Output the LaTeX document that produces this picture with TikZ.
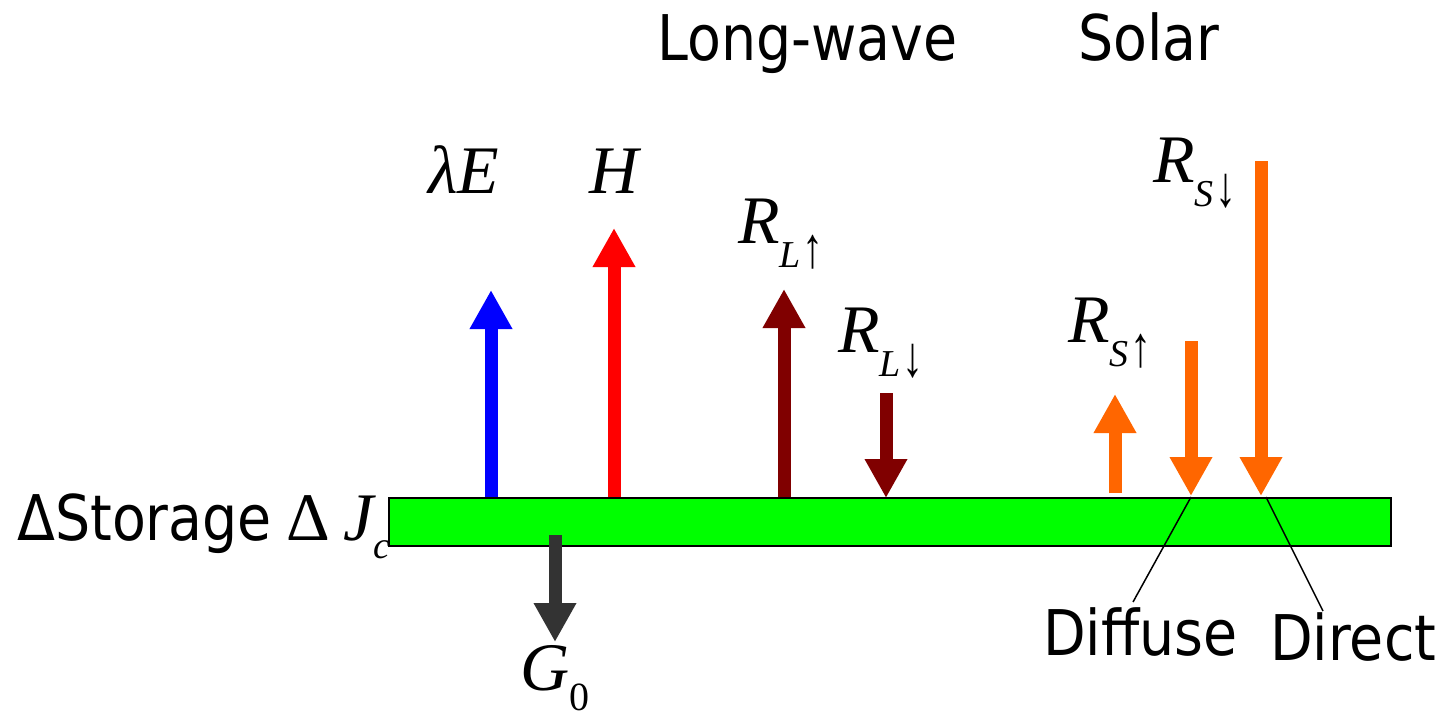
\documentclass[tikz,border=0pt]{standalone}
\usepackage{fontspec}
\usepackage{graphicx}
\usetikzlibrary{arrows.meta}
\newfontfamily\tmfont{Liberation Serif}
\newfontfamily\sansfont[FakeStretch=0.88]{DejaVu Sans}
\newcommand\bigmath{\fontsize{68}{68}\selectfont\tmfont\itshape}
\newcommand\submath{\fontsize{38}{38}\selectfont\tmfont\itshape}
\newcommand\bigsans{\fontsize{63}{63}\selectfont\sansfont}
\newcommand\subarrow[1]{\resizebox*{21pt}{34pt}{\fontsize{40}{40}\selectfont\tmfont\upshape #1}}
\newcommand\lab[3]{{\bigmath #1}\raisebox{-24pt}{\submath #2\hspace{2pt}\subarrow{#3}}}
\definecolor{barg}{HTML}{00FF00}
\definecolor{lwred}{HTML}{800000}
\definecolor{solor}{HTML}{FF6600}
\definecolor{gflux}{HTML}{333333}
\tikzset{
  flux/.style={line width=13pt, -{Triangle[width=40pt,length=39pt]}},
  txt/.style={inner sep=0pt, anchor=base west},
  leader/.style={line width=1.5pt}
}
\begin{document}
\begin{tikzpicture}[x=1pt,y=-1pt]
\fill[white] (0,0) rectangle (1454,717);
\useasboundingbox (0,0) rectangle (1454,717);
% surface layer
\node[draw=black, line width=1.5pt, fill=barg, inner sep=0pt, minimum width=1002pt, minimum height=48pt, anchor=north west] (bar) at (388,497) {};
% headings
\node[txt] (lw) at (657,60) {\bigsans Long-wave};
\node[txt] (sol) at (1078,60) {\bigsans Solar};
% coordinates
\coordinate (le0) at (491,497); \coordinate (le1) at (491,290);
\coordinate (h0) at (614,497); \coordinate (h1) at (614,228);
\coordinate (lu0) at (784,497); \coordinate (lu1) at (784,289);
\coordinate (ld0) at (886,393); \coordinate (ld1) at (886,498);
\coordinate (su0) at (1115,493); \coordinate (su1) at (1115,394);
\coordinate (df0) at (1191,341); \coordinate (df1) at (1191,496);
\coordinate (dr0) at (1261,161); \coordinate (dr1) at (1261,496);
\coordinate (g0) at (555,535); \coordinate (g1) at (555,642);
% fluxes
\draw[flux, blue] (le0) -- (le1);
\draw[flux, red] (h0) -- (h1);
\draw[flux, lwred] (lu0) -- (lu1);
\draw[flux, lwred] (ld0) -- (ld1);
\draw[flux, solor] (su0) -- (su1);
\draw[flux, solor] (df0) -- (df1);
\draw[flux, solor] (dr0) -- (dr1);
\draw[flux, gflux] (g0) -- (g1);
% labels
\node[txt] (tle) at (428,193) {\bigmath λE};
\node[txt] (th) at (589,193) {\bigmath H};
\node[txt] (tlu) at (738,243) {\lab{R}{L}{↑}};
\node[txt] (tld) at (838,352) {\lab{R}{L}{↓}};
\node[txt] (tsu) at (1068,342) {\lab{R}{S}{↑}};
\node[txt] (tsd) at (1153,182) {\lab{R}{S}{↓}};
\node[txt] (tg) at (520,690) {{\bigmath G}\raisebox{-20pt}{\fontsize{40}{40}\selectfont\tmfont 0}};
\node[txt] (tst) at (17,540) {{\bigsans ΔStorage}\hspace{14pt}{\fontsize{68}{68}\selectfont\tmfont Δ}\hspace{14pt}{\bigmath J}\raisebox{-18pt}{\submath c}};
% diffuse / direct
\node[txt] (tdf) at (1043,655) {\bigsans Diffuse};
\node[txt] (tdr) at (1270,660) {\bigsans Direct};
\coordinate (dfp) at (1191,497); \coordinate (dfq) at (1133,602);
\coordinate (drp) at (1266,497); \coordinate (drq) at (1323,611);
\draw[leader] (dfp) -- (dfq);
\draw[leader] (drp) -- (drq);
\end{tikzpicture}
\end{document}
